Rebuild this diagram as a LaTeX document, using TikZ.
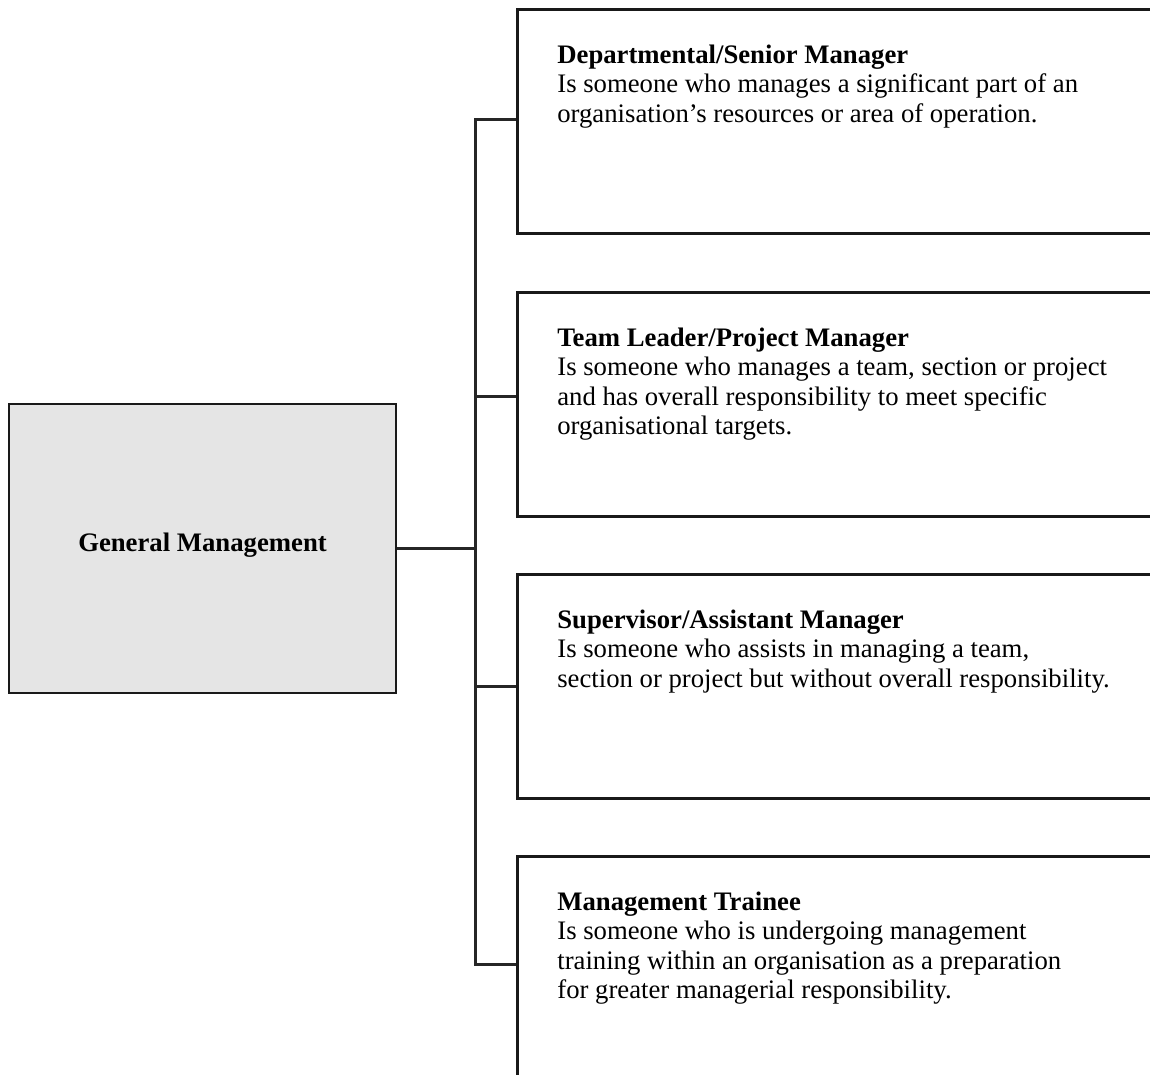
\documentclass[tikz,border=0pt]{standalone}
\usepackage{fontspec}
\setmainfont{Liberation Serif}
\usepackage{xcolor}
\usepackage{tikz}
\usetikzlibrary{positioning}
\definecolor{headgray}{HTML}{E5E5E5}

\begin{document}
\begin{tikzpicture}[
    head/.style={rectangle, draw=black!90, line width=1.5pt, fill=headgray, minimum width=7.74cm, minimum height=5.78cm},
    role/.style={rectangle, draw=black!90, line width=1.5pt, minimum width=14cm, minimum height=4.48cm, anchor=north west},
    roletext/.style={align=left, inner sep=0pt, anchor=north west, font=\fontsize{15.2}{16.8}\selectfont},
    link/.style={draw=black!85, line width=1.4pt}
]
\useasboundingbox (0,0) rectangle (23,-21.5);
\clip (0,0) rectangle (23,-21.5);

% General Management
\node[head] (gm) at (4.05,-10.97) {};
\node[anchor=base, font=\fontsize{15.2}{16.8}\selectfont\bfseries] (gmtext) at ([yshift=-0.05cm]gm.center) {General Management};

% Role boxes
\node[role] (senior) at (10.32,-0.16) {};
\node[role] (leader) at (10.32,-5.82) {};
\node[role] (supervisor) at (10.32,-11.46) {};
\node[role] (trainee) at (10.32,-17.10) {};

% Role texts
\node[roletext] (seniortext) at ([xshift=0.82cm, yshift=-0.73cm]senior.north west) {\textbf{Departmental/Senior Manager}\\Is someone who manages a significant part of an\\organisation’s resources or area of operation.};
\node[roletext] (leadertext) at ([xshift=0.82cm, yshift=-0.73cm]leader.north west) {\textbf{Team Leader/Project Manager}\\Is someone who manages a team, section or project\\and has overall responsibility to meet specific\\organisational targets.};
\node[roletext] (supervisortext) at ([xshift=0.82cm, yshift=-0.73cm]supervisor.north west) {\textbf{Supervisor/Assistant Manager}\\Is someone who assists in managing a team,\\section or project but without overall responsibility.};
\node[roletext] (traineetext) at ([xshift=0.82cm, yshift=-0.73cm]trainee.north west) {\textbf{Management Trainee}\\Is someone who is undergoing management\\training within an organisation as a preparation\\for greater managerial responsibility.};

% Connectors
\coordinate[right=1.56cm of gm.east] (hub);
\draw[link] (gm.east) -- (hub);
\draw[link] ([yshift=0.04cm]senior.west) -| (hub) |- ([yshift=0.08cm]trainee.west);
\draw[link] (hub |- leader.west) ++(0,0.16) -- ([yshift=0.16cm]leader.west);
\draw[link] (hub |- supervisor.west) -- (supervisor.west);

\end{tikzpicture}
\end{document}
